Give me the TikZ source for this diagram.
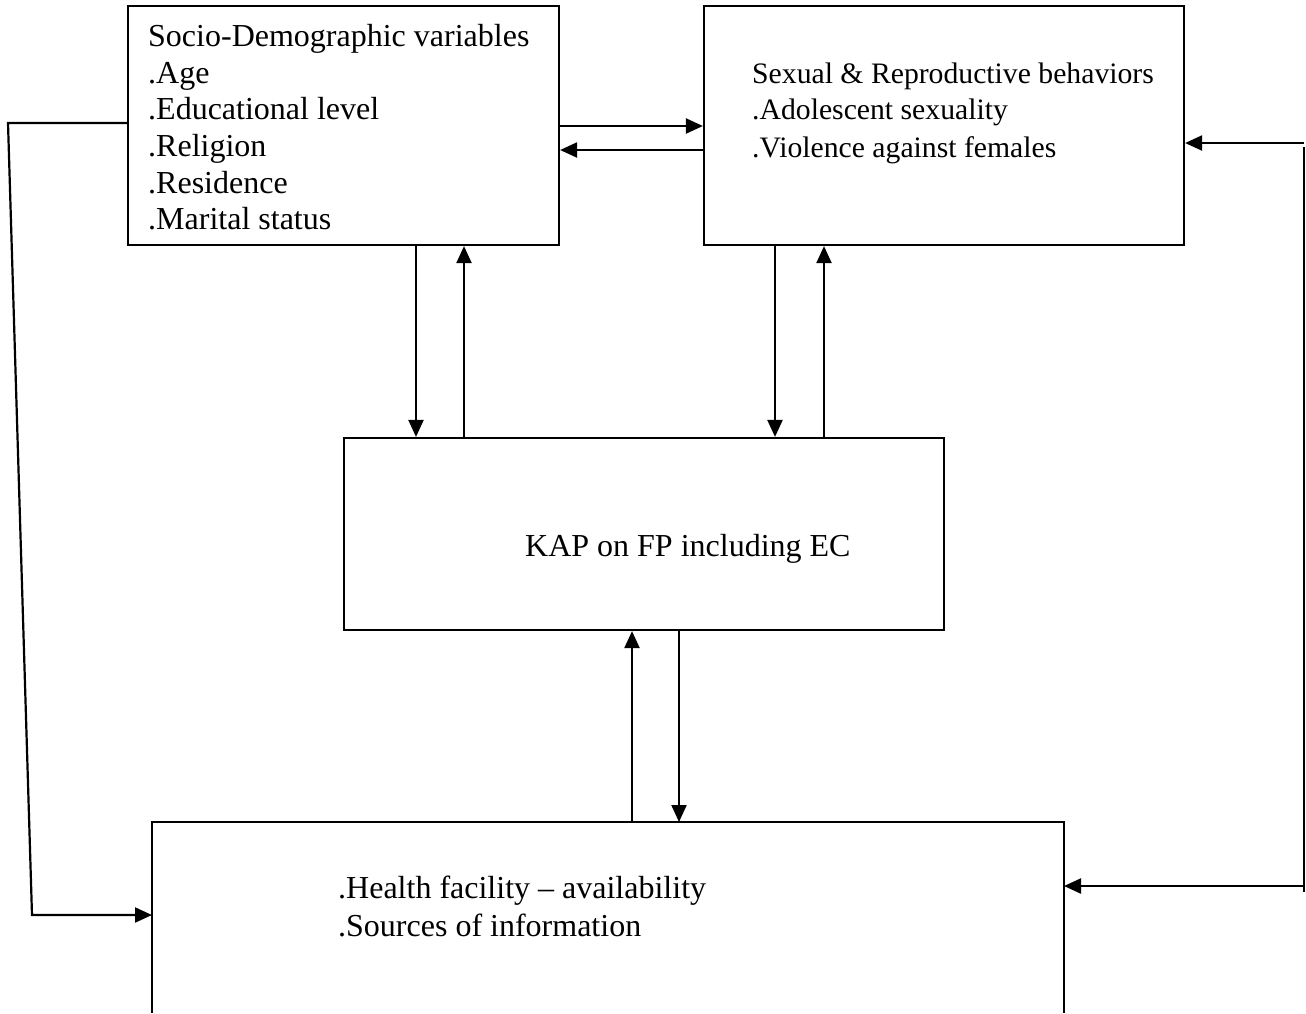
\documentclass[tikz,border=0pt]{standalone}
\usepackage{fontspec}
\setmainfont{Liberation Serif}
\usetikzlibrary{arrows.meta}
\begin{document}
\begin{tikzpicture}[x=1pt,y=-1pt,
  box/.style={draw,line width=2.2pt,inner sep=0pt},
  txt/.style={anchor=base west,inner sep=0pt,font=\fontsize{32}{36.7}\selectfont},
  txtb/.style={anchor=base west,inner sep=0pt,font=\fontsize{29.7}{36.7}\selectfont},
  conn/.style={line width=2.2pt,-{Triangle[length=17pt,width=15pt]}},
  plain/.style={line width=2.2pt}]
\useasboundingbox (0,0) rectangle (1306,1013);
% boxes
\node[box,minimum width=431pt,minimum height=239pt] (A) at (343.5,125.5) {};
\node[box,minimum width=480pt,minimum height=239pt] (B) at (944,125.5) {};
\node[box,minimum width=600pt,minimum height=192pt] (C) at (644,534) {};
\coordinate (Dtl) at (152,822);
\coordinate (Dtr) at (1064,822);
\coordinate (Dbl) at (152,1013);
\coordinate (Dbr) at (1064,1013);
\draw[plain] (Dbl) -- (Dtl) -- (Dtr) -- (Dbr);
% texts
\node[txt] (a1) at (148,46) {Socio-Demographic variables};
\node[txt] (a2) at (148,83) {.Age};
\node[txt] (a3) at (148,119) {.Educational level};
\node[txt] (a4) at (148,156) {.Religion};
\node[txt] (a5) at (148,193) {.Residence};
\node[txt] (a6) at (148,229) {.Marital status};
\node[txtb] (b1) at (752,83) {Sexual \& Reproductive behaviors};
\node[txtb] (b2) at (752,119) {.Adolescent sexuality};
\node[txtb] (b3) at (752,157) {.Violence against females};
\node[txt] (c1) at (525,556) {KAP on FP including EC};
\node[txt] (d1) at (338,898) {.Health facility – availability};
\node[txt] (d2) at (338,936) {.Sources of information};
% A <-> B
\draw[conn] (A.east |- 0,126) -- (B.west |- 0,126);
\draw[conn] (B.west |- 0,150) -- (A.east |- 0,150);
% A <-> C
\draw[conn] (A.south -| 416,0) -- (C.north -| 416,0);
\draw[conn] (C.north -| 464,0) -- (A.south -| 464,0);
% B <-> C
\draw[conn] (B.south -| 775,0) -- (C.north -| 775,0);
\draw[conn] (C.north -| 824,0) -- (B.south -| 824,0);
% C <-> D
\draw[conn] (Dtl -| 632,0) -- (C.south -| 632,0);
\draw[conn] (C.south -| 679,0) -- (Dtl -| 679,0);
% left loop
\coordinate (L1) at (8,123);
\coordinate (L2) at (32,915);
\draw[conn] (A.west |- 0,123) -- (L1) -- (L2) -- (Dtl |- 0,915);
% right loop
\coordinate (R1) at (1304,143);
\coordinate (R2) at (1304,147);
\coordinate (R3) at (1304,892);
\coordinate (R4) at (1304,886);
\draw[conn] (R1) -- (B.east |- 0,143);
\draw[plain] (R2) -- (R3);
\draw[conn] (R4) -- (Dtr |- 0,886);
\end{tikzpicture}
\end{document}
